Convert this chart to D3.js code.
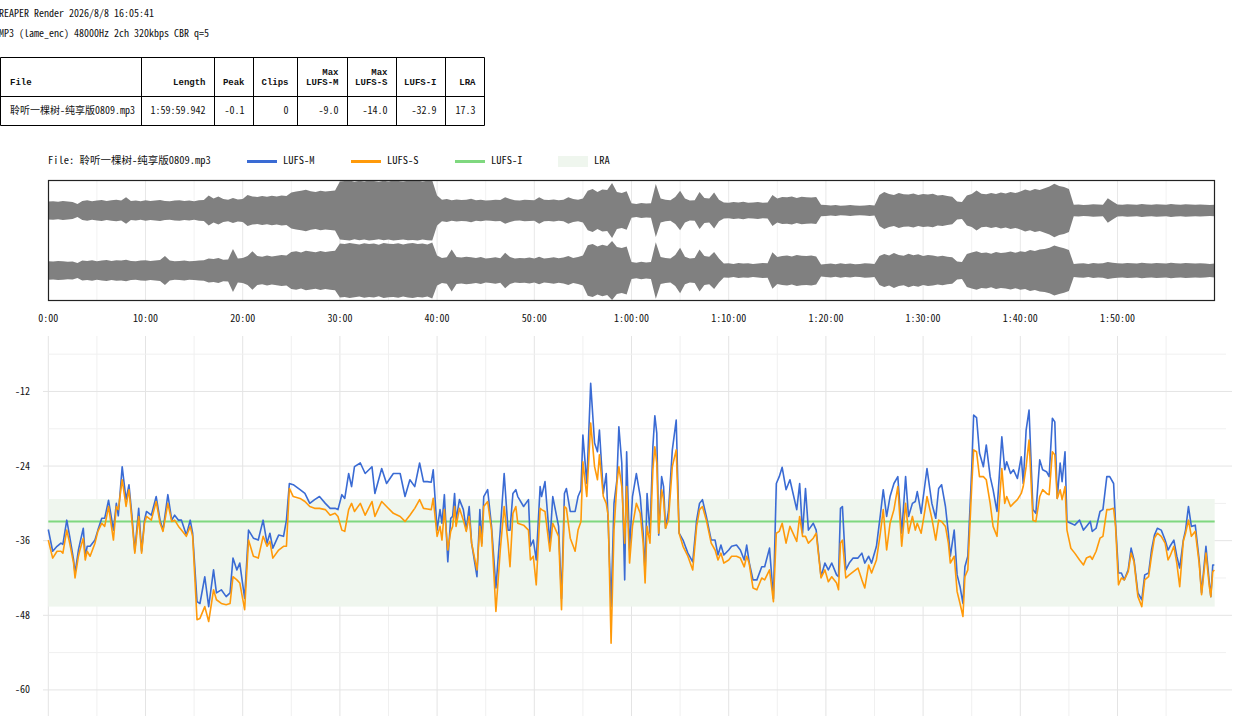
<!DOCTYPE html>
<html>
<head>
<meta charset="utf-8">
<script src="https://cdn.jsdelivr.net/npm/d3@7"></script>
<style>
  body { margin: 0; background: #fff; }
  svg text { font-family: "Noto Sans Mono CJK SC", "Liberation Mono", monospace; font-size: 10px; fill: #111; }
  svg text.th { font-family: "Liberation Mono", monospace; font-size: 9px; font-weight: bold; }
</style>
</head>
<body>
<svg id="chart" width="1253" height="716"></svg>
<script>
var headerLines = ["REAPER Render 2026/8/8 16:05:41", "MP3 (lame_enc) 48000Hz 2ch 320kbps CBR q=5"];
var tableHeaders = [["File"], ["Length"], ["Peak"], ["Clips"], ["Max", "LUFS-M"], ["Max", "LUFS-S"], ["LUFS-I"], ["LRA"]];
var tableRow = ["聆听一棵树-纯享版0809.mp3", "1:59:59.942", "-0.1", "0", "-9.0", "-14.0", "-32.9", "17.3"];
var fileName = "聆听一棵树-纯享版0809.mp3";
var durationMin = 119.999;
var lufsI = -32.9;
var lraRange = [-46.6, -29.3];
var timeTicks = [0, 10, 20, 30, 40, 50, 60, 70, 80, 90, 100, 110];
var loudTicks = [-12, -24, -36, -48, -60];
var legendItems = ["LUFS-M", "LUFS-S", "LUFS-I", "LRA"];

// loudness samples (minutes, LUFS)
var lufsTime = [
  0, 0.45, 0.9, 1.3, 1.5, 1.9, 2.2, 2.6, 2.75, 3.1, 3.25, 3.6, 3.8, 4.0, 4.3, 4.8, 5.1, 5.5, 5.8, 6.2,
  6.7, 7.0, 7.2, 7.6, 8.0, 8.3, 8.6, 8.9, 9.3, 9.6, 9.9, 10.1, 10.6, 11.1, 11.5, 11.8, 12.3, 12.7, 13.0, 13.4,
  13.7, 14.2, 14.6, 14.85, 15.3, 15.6, 16.1, 16.5, 17.0, 17.3, 17.8, 18.3, 18.7, 19.0, 19.4, 19.7, 20.2, 20.6, 21.1, 21.6,
  22.1, 22.5, 22.8, 23.1, 23.7, 24.2, 24.5, 24.8, 25.2, 25.9, 26.4, 26.9, 27.4, 27.9, 28.5, 29.0, 29.5, 29.8, 30.2, 30.5,
  30.9, 31.2, 31.5, 32.1, 32.6, 33.3, 33.6, 34.3, 34.8, 35.5, 36.2, 36.7, 37.2, 37.7, 38.2, 38.6, 39.0, 39.4, 39.6, 40.0,
  40.3, 40.5, 40.75, 41.1, 41.4, 41.6, 41.8, 41.95, 42.3, 42.7, 43.0, 43.3, 43.55, 44.1, 44.4, 44.6, 44.8, 45.2, 45.6, 46.05,
  46.5, 46.9, 47.3, 47.5, 47.8, 48.1, 48.3, 48.9, 49.4, 49.6, 49.9, 50.2, 50.6, 50.75, 51.1, 51.6, 51.9, 52.5, 52.8, 53.1,
  53.3, 53.7, 54.2, 54.5, 54.8, 55.0, 55.4, 55.8, 56.2, 56.5, 56.7, 57.1, 57.4, 57.6, 57.9, 58.2, 58.5, 58.7, 59.0, 59.3,
  59.5, 59.8, 60.1, 60.5, 60.9, 61.2, 61.4, 61.6, 61.9, 62.2, 62.4, 62.6, 62.8, 63.1, 63.3, 63.5, 63.8, 64.2, 64.6, 64.9,
  65.3, 65.8, 66.3, 66.7, 67.0, 67.3, 67.7, 68.2, 68.6, 68.9, 69.2, 69.5, 70.0, 70.3, 70.8, 71.2, 71.6, 71.85, 72.1, 72.5,
  72.9, 73.4, 73.7, 74.2, 74.6, 74.9, 75.2, 75.5, 75.9, 76.3, 77.0, 77.3, 77.6, 77.9, 78.2, 78.7, 79.0, 79.5, 79.9, 80.25,
  80.6, 81.1, 81.3, 81.5, 81.7, 82.05, 82.4, 82.8, 83.3, 83.7, 84.0, 84.4, 84.7, 85.2, 85.6, 85.9, 86.25, 86.6, 87.0, 87.4,
  87.8, 88.2, 88.5, 88.9, 89.2, 89.4, 89.8, 90.2, 90.4, 90.9, 91.3, 91.6, 91.9, 92.3, 92.6, 92.8, 93.2, 93.5, 93.8, 94.1,
  94.3, 94.6, 95.0, 95.2, 95.5, 95.8, 96.2, 96.5, 96.9, 97.2, 97.6, 98.1, 98.4, 98.6, 99.0, 99.3, 99.7, 100.1, 100.3, 100.6,
  100.9, 101.3, 101.6, 102.0, 102.3, 102.7, 102.97, 103.3, 103.55, 103.8, 104.1, 104.3, 104.6, 104.8, 105.2, 105.6, 106.1, 106.5, 106.8, 107.2,
  107.4, 107.8, 108.2, 108.5, 108.9, 109.2, 109.6, 109.8, 110.1, 110.4, 110.7, 111.1, 111.4, 111.7, 112.1, 112.5, 112.8, 113.2, 113.5, 113.8,
  114.1, 114.5, 114.9, 115.2, 115.4, 115.8, 116.1, 116.4, 116.77, 117.0, 117.3, 117.6, 118.0, 118.4, 118.65, 119.1, 119.45, 119.6, 119.8, 119.96
];
var lufsM = [
  -34.2, -37.7, -36.9, -36.4, -36.6, -32.7, -35.3, -39.1, -41.2, -37.5, -36.4, -34.0, -38.5, -36.9, -36.9, -35.9, -34.3, -32.4, -32.4, -29.5,
  -34.3, -30.0, -32.0, -24.1, -29.4, -27.0, -31.9, -37.7, -30.8, -37.7, -32.7, -31.3, -31.9, -28.9, -32.7, -34.3, -28.6, -32.7, -31.9, -32.7,
  -32.7, -35.1, -32.7, -34.8, -45.8, -46.1, -41.8, -46.6, -40.7, -44.4, -43.9, -45.0, -44.4, -38.8, -40.7, -39.6, -45.3, -34.3, -35.6, -35.9,
  -32.7, -36.4, -34.8, -37.2, -35.1, -35.3, -32.7, -26.8, -27.0, -27.8, -28.4, -30.0, -29.4, -28.9, -30.0, -30.8, -30.8, -31.0, -28.6, -29.2,
  -25.2, -27.3, -24.1, -23.5, -25.2, -24.1, -28.4, -24.4, -26.8, -25.2, -25.2, -28.9, -26.2, -27.3, -23.5, -26.5, -26.5, -26.6, -24.6, -34.3,
  -31.0, -33.2, -28.6, -39.4, -32.4, -32.1, -28.4, -32.7, -29.4, -31.0, -34.3, -30.5, -36.4, -41.8, -31.0, -36.4, -28.9, -27.8, -33.7, -43.6,
  -34.3, -25.2, -34.3, -34.3, -28.4, -27.8, -28.9, -30.5, -29.4, -36.9, -35.9, -39.1, -27.3, -28.9, -26.5, -36.4, -28.9, -33.7, -45.3, -28.4,
  -27.6, -31.3, -31.3, -28.9, -27.8, -19.0, -26.8, -10.7, -20.3, -21.7, -18.2, -28.4, -25.2, -33.0, -46.6, -30.0, -26.2, -17.7, -23.5, -42.3,
  -21.7, -37.5, -28.9, -25.2, -28.9, -34.8, -41.2, -28.4, -34.8, -20.9, -15.9, -18.7, -35.1, -25.7, -27.3, -34.0, -31.3, -21.4, -16.6, -34.8,
  -35.9, -38.0, -39.4, -32.7, -30.0, -29.4, -32.1, -35.9, -35.9, -38.3, -36.7, -38.3, -37.5, -36.9, -36.7, -37.5, -39.1, -36.7, -39.4, -42.3,
  -42.3, -40.2, -40.2, -37.2, -45.3, -26.8, -25.7, -24.2, -27.8, -26.2, -31.0, -26.8, -34.8, -27.6, -34.3, -33.2, -34.3, -41.8, -39.6, -40.7,
  -39.6, -41.5, -41.8, -30.8, -30.5, -40.7, -39.6, -38.8, -38.8, -38.0, -39.6, -38.5, -39.6, -36.9, -31.9, -27.8, -32.1, -28.9, -26.8, -25.7,
  -34.8, -25.7, -32.1, -30.0, -29.7, -28.1, -31.6, -26.8, -24.4, -30.0, -32.4, -27.6, -27.0, -30.5, -34.8, -38.5, -34.3, -41.5, -43.4, -46.1,
  -40.2, -38.5, -24.6, -15.8, -16.2, -21.9, -24.1, -20.6, -25.7, -27.8, -31.3, -19.3, -24.6, -23.3, -25.2, -24.6, -26.0, -22.5, -26.8, -18.2,
  -15.0, -31.0, -31.6, -23.0, -24.6, -24.9, -25.7, -16.3, -16.9, -29.2, -23.5, -26.5, -21.7, -32.9, -33.2, -33.5, -32.7, -34.3, -33.7, -32.9,
  -34.5, -34.0, -31.3, -31.0, -25.7, -25.7, -26.8, -33.2, -41.2, -41.2, -42.3, -40.7, -37.2, -39.1, -44.4, -45.5, -41.5, -41.2, -37.5, -35.1,
  -34.0, -34.3, -35.9, -37.5, -36.9, -35.9, -38.5, -40.4, -35.9, -34.3, -30.5, -33.7, -33.5, -39.1, -44.4, -36.9, -42.8, -45.0, -39.9, -39.9
];
var lufsS = [
  -35.9, -38.8, -37.7, -37.7, -38.0, -34.3, -36.4, -39.6, -42.0, -38.5, -37.5, -35.6, -39.1, -37.7, -38.5, -36.4, -34.5, -33.2, -33.7, -30.5,
  -35.9, -30.5, -31.0, -26.2, -30.5, -27.8, -32.7, -38.0, -32.1, -38.0, -33.2, -32.1, -32.7, -29.7, -33.2, -34.5, -30.0, -32.9, -32.7, -33.7,
  -34.3, -35.3, -33.7, -35.3, -48.7, -48.5, -46.6, -49.0, -43.9, -45.5, -46.1, -46.3, -46.1, -41.8, -42.3, -42.8, -47.1, -35.9, -38.5, -38.8,
  -35.3, -36.9, -36.1, -38.8, -37.5, -36.9, -36.9, -27.6, -28.9, -29.2, -29.7, -30.5, -30.8, -30.8, -31.0, -31.9, -31.6, -32.1, -34.3, -34.5,
  -31.0, -30.0, -31.3, -30.0, -31.9, -29.7, -32.1, -29.7, -30.5, -31.6, -32.1, -32.9, -31.9, -30.8, -29.4, -30.8, -30.9, -31.0, -29.2, -35.3,
  -33.7, -35.9, -31.0, -37.5, -34.5, -33.7, -30.5, -33.7, -30.8, -32.7, -34.5, -32.1, -36.4, -40.7, -33.7, -36.9, -30.5, -29.7, -34.3, -47.4,
  -37.5, -30.5, -36.4, -40.2, -31.6, -30.5, -33.2, -33.5, -34.3, -39.1, -38.5, -43.1, -30.8, -31.0, -31.3, -37.7, -33.2, -35.3, -47.1, -30.5,
  -30.8, -35.6, -37.7, -34.3, -32.9, -23.3, -28.9, -17.1, -24.1, -26.2, -22.2, -28.9, -30.0, -32.0, -52.5, -34.3, -26.8, -24.1, -27.3, -36.4,
  -27.3, -39.6, -33.7, -30.0, -31.6, -36.4, -42.8, -33.7, -36.4, -24.6, -20.9, -23.5, -34.8, -27.8, -29.4, -34.0, -32.7, -24.1, -21.4, -34.8,
  -36.9, -38.5, -40.7, -33.7, -31.0, -30.5, -32.7, -36.4, -37.5, -39.1, -38.0, -39.6, -39.1, -38.5, -38.5, -38.8, -40.2, -38.5, -39.6, -43.6,
  -43.9, -42.0, -42.3, -40.7, -45.8, -34.8, -34.5, -33.2, -36.4, -33.7, -36.1, -32.1, -35.3, -35.3, -36.4, -35.6, -34.8, -42.0, -40.7, -42.6,
  -41.8, -42.8, -43.9, -36.4, -35.9, -42.0, -41.5, -41.0, -40.4, -42.3, -43.6, -39.9, -41.2, -39.1, -34.8, -31.0, -37.5, -33.2, -31.0, -27.3,
  -36.9, -30.0, -34.8, -32.1, -34.3, -33.2, -34.8, -31.0, -28.9, -32.4, -35.9, -32.7, -32.9, -33.7, -36.4, -39.6, -38.5, -44.2, -46.1, -48.2,
  -41.8, -40.7, -27.3, -21.4, -21.7, -25.7, -25.7, -26.2, -30.0, -33.7, -35.3, -24.4, -30.0, -28.9, -30.5, -30.0, -29.4, -28.4, -27.3, -24.1,
  -19.8, -32.7, -32.9, -28.9, -27.8, -28.4, -28.6, -21.7, -22.2, -29.2, -27.8, -29.4, -27.3, -34.3, -37.2, -38.0, -39.1, -39.9, -38.8, -38.5,
  -39.0, -37.7, -35.6, -35.3, -31.0, -31.0, -30.8, -33.7, -43.1, -42.0, -42.3, -41.0, -38.0, -39.4, -45.0, -46.6, -42.3, -41.8, -38.5, -35.6,
  -34.8, -35.3, -36.4, -39.1, -38.5, -36.9, -39.6, -43.4, -36.1, -34.8, -32.7, -35.3, -34.5, -39.6, -44.7, -38.0, -43.4, -45.0, -41.0, -40.7
];

// waveform peak envelope per channel, one value every half minute (0 .. 120 min), fraction of full scale
var waveStep = 0.5;
var waveL = [
  0.30, 0.31, 0.29, 0.32, 0.30, 0.28, 0.22, 0.32, 0.34, 0.31, 0.33, 0.35, 0.32, 0.34, 0.36, 0.33, 0.44,
  0.32, 0.33, 0.31, 0.34, 0.32, 0.33, 0.35, 0.32, 0.31, 0.33, 0.34, 0.32, 0.33, 0.31, 0.34, 0.35,
  0.50, 0.40, 0.47, 0.38, 0.36, 0.42, 0.37, 0.38, 0.52,
  0.47, 0.45, 0.48, 0.46, 0.49, 0.47, 0.50, 0.48,
  0.60, 0.63, 0.66, 0.69, 0.64, 0.62, 0.66, 0.63, 0.65, 0.67,
  0.97, 0.98, 1.00, 0.96, 0.99, 0.97, 1.00, 0.98, 0.96, 0.99, 0.97, 1.00, 0.98, 0.97, 0.99, 0.98, 1.00, 0.97, 0.99, 1.00,
  0.50, 0.36, 0.38, 0.34, 0.37, 0.35, 0.36, 0.39, 0.34, 0.36,
  0.33, 0.34, 0.36, 0.35, 0.44, 0.38, 0.34, 0.33, 0.36, 0.35, 0.34,
  0.44, 0.36, 0.35, 0.37, 0.34, 0.36, 0.44, 0.38, 0.36, 0.40,
  0.66, 0.72, 0.62, 0.70, 0.68, 0.92, 0.62, 0.58, 0.64,
  0.24, 0.22, 0.25, 0.23, 0.24,
  0.88, 0.40, 0.36, 0.34, 0.45, 0.66, 0.40, 0.33, 0.34, 0.62, 0.42, 0.40, 0.60, 0.36,
  0.27, 0.26, 0.28, 0.27, 0.29, 0.26, 0.27, 0.28, 0.26, 0.27,
  0.52, 0.40, 0.45, 0.44, 0.47, 0.42, 0.46, 0.44, 0.43, 0.45,
  0.19, 0.18, 0.17, 0.18, 0.16, 0.17, 0.18, 0.17, 0.16, 0.17, 0.18, 0.17,
  0.52, 0.62, 0.55, 0.52, 0.58, 0.54, 0.53, 0.57, 0.52, 0.55, 0.53, 0.56, 0.50, 0.52, 0.48, 0.46,
  0.30, 0.28, 0.50, 0.55, 0.67, 0.56, 0.54, 0.58, 0.55, 0.60, 0.57, 0.62, 0.58, 0.63, 0.70, 0.66, 0.72, 0.68, 0.74, 0.80, 0.89, 0.82, 0.78, 0.72,
  0.19, 0.20, 0.18, 0.19, 0.21, 0.20, 0.19, 0.41, 0.30, 0.20, 0.19, 0.21, 0.20, 0.19, 0.22,
  0.20, 0.19, 0.21, 0.20, 0.19, 0.22, 0.20, 0.19, 0.21, 0.20, 0.19, 0.20, 0.19, 0.18, 0.19
];
var waveR = [
  0.31, 0.30, 0.32, 0.31, 0.29, 0.30, 0.25, 0.33, 0.32, 0.34, 0.31, 0.33, 0.35, 0.32, 0.34, 0.33, 0.36,
  0.32, 0.31, 0.33, 0.34, 0.32, 0.33, 0.35, 0.48, 0.33, 0.31, 0.32, 0.33, 0.31, 0.32, 0.33, 0.34,
  0.40, 0.38, 0.42, 0.36, 0.37, 0.72, 0.40, 0.42, 0.48,
  0.64, 0.48, 0.46, 0.50, 0.47, 0.49, 0.52, 0.50,
  0.62, 0.64, 0.60, 0.66, 0.63, 0.61, 0.65, 0.62, 0.64, 0.66,
  0.90, 0.88, 0.92, 0.89, 0.87, 0.91, 0.88, 0.90, 0.86, 0.92, 0.89, 0.88, 0.91, 0.87, 0.90, 0.92, 0.88, 0.90, 0.87, 0.93,
  0.50, 0.42, 0.44, 0.70, 0.45, 0.43, 0.46, 0.44, 0.42, 0.45,
  0.40, 0.42, 0.44, 0.41, 0.59, 0.45, 0.40, 0.42, 0.41, 0.43, 0.40,
  0.46, 0.40, 0.42, 0.44, 0.41, 0.43, 0.48, 0.42, 0.45, 0.50,
  0.84, 0.88, 0.80, 0.86, 0.82, 0.98, 0.78, 0.75, 0.80,
  0.28, 0.26, 0.29, 0.27, 0.28,
  0.94, 0.45, 0.42, 0.40, 0.52, 0.76, 0.46, 0.40, 0.42, 0.70, 0.48, 0.46, 0.62, 0.40,
  0.23, 0.24, 0.22, 0.25, 0.23, 0.24, 0.22, 0.23, 0.25, 0.24,
  0.61, 0.45, 0.48, 0.50, 0.47, 0.52, 0.49, 0.48, 0.50, 0.47,
  0.20, 0.22, 0.23, 0.21, 0.24, 0.22, 0.23, 0.21, 0.22, 0.24, 0.23, 0.22,
  0.48, 0.55, 0.50, 0.58, 0.52, 0.49, 0.56, 0.51, 0.54, 0.48, 0.52, 0.50, 0.47, 0.49, 0.46, 0.44,
  0.30, 0.28, 0.55, 0.60, 0.64, 0.58, 0.60, 0.56, 0.62, 0.58, 0.60, 0.63, 0.59, 0.64, 0.62, 0.68, 0.65, 0.70, 0.72, 0.76, 0.83, 0.78, 0.74, 0.68,
  0.22, 0.23, 0.24, 0.22, 0.25, 0.23, 0.24, 0.28, 0.26, 0.24, 0.23, 0.25, 0.24, 0.23, 0.26,
  0.24, 0.23, 0.25, 0.24, 0.23, 0.26, 0.24, 0.23, 0.25, 0.24, 0.23, 0.24, 0.23, 0.22, 0.23
];

var colM = "#3a6bd4", colS = "#ff9a0a", colI = "#7fd87f", colLra = "#eff6ee";

var svg = d3.select("#chart");

// ---- header text ----
svg.selectAll("text.hdr").data(headerLines).enter().append("text")
  .attr("class", "hdr")
  .attr("x", -1)
  .attr("y", function (d, i) { return 16.5 + i * 20; })
  .text(function (d) { return d; });

// ---- stats table ----
var colEdges = [0.5, 141.5, 214.5, 253.5, 297.5, 347.5, 396.5, 445.5, 484.5];
var rowEdges = [57.5, 96.5, 125.5];
var table = svg.append("g").attr("class", "table");

table.selectAll("line.col").data(colEdges).enter().append("line")
  .attr("x1", function (d) { return d; }).attr("x2", function (d) { return d; })
  .attr("y1", rowEdges[0]).attr("y2", rowEdges[2])
  .attr("stroke", "#000");
table.selectAll("line.row").data(rowEdges).enter().append("line")
  .attr("x1", colEdges[0]).attr("x2", colEdges[colEdges.length - 1])
  .attr("y1", function (d) { return d; }).attr("y2", function (d) { return d; })
  .attr("stroke", "#000");

function cellX(i) { return i === 0 ? colEdges[0] + 9.5 : colEdges[i + 1] - 9; }
function cellAnchor(i) { return i === 0 ? "start" : "end"; }

tableHeaders.forEach(function (lines, i) {
  lines.forEach(function (ln, j) {
    table.append("text")
      .attr("class", "th")
      .attr("x", cellX(i))
      .attr("y", 85 - (lines.length - 1 - j) * 10.5)
      .attr("text-anchor", cellAnchor(i))
      .text(ln);
  });
});
tableRow.forEach(function (v, i) {
  table.append("text")
    .attr("x", cellX(i))
    .attr("y", 113.5)
    .attr("text-anchor", cellAnchor(i))
    .text(v);
});

// ---- legend ----
var legend = svg.append("g").attr("class", "legend");
legend.append("text").attr("x", 48).attr("y", 164).style("font-size", "10.5px").text("File: " + fileName);
var legX = [247, 351, 455, 558];
var legCol = [colM, colS, colI];
legendItems.forEach(function (name, i) {
  if (i < 3) {
    legend.append("line")
      .attr("x1", legX[i]).attr("x2", legX[i] + 30)
      .attr("y1", 161.5).attr("y2", 161.5)
      .attr("stroke", legCol[i]).attr("stroke-width", 3);
  } else {
    legend.append("rect")
      .attr("x", legX[i]).attr("y", 156).attr("width", 30).attr("height", 11)
      .attr("fill", colLra);
  }
  legend.append("text").attr("x", legX[i] + 36).attr("y", 164).style("font-size", "10.5px").text(name);
});

// ---- scales ----
var x = d3.scaleLinear().domain([0, 120]).range([48.3, 1214.7]);
var fiveMin = d3.range(0, 120, 5);
function fmtTime(m) {
  var h = Math.floor(m / 60), mm = m % 60;
  return h > 0 ? h + ":" + d3.format("02d")(mm) + ":00" : mm + ":00";
}

// ---- waveform ----
var wave = svg.append("g").attr("class", "wave");
var boxTop = 180.5, boxH = 120;
wave.selectAll("line.grid").data(fiveMin.slice(1)).enter().append("line")
  .attr("x1", function (d) { return x(d); }).attr("x2", function (d) { return x(d); })
  .attr("y1", boxTop).attr("y2", boxTop + boxH)
  .attr("stroke", function (d) { return d % 10 === 0 ? "#e8e8e8" : "#f2f2f2"; });

var waveT = d3.range(waveL.length).map(function (i) { return Math.min(i * waveStep, durationMin); });
[{ amp: waveL, c: 210.5 }, { amp: waveR, c: 270.5 }].forEach(function (ch) {
  var area = d3.area()
    .x(function (d, i) { return x(waveT[i]); })
    .y0(function (d) { return ch.c + d * 30; })
    .y1(function (d) { return ch.c - d * 30; });
  wave.append("path").attr("d", area(ch.amp)).attr("fill", "#808080");
});
wave.append("rect")
  .attr("x", 48.5).attr("y", boxTop).attr("width", 1166).attr("height", boxH)
  .attr("fill", "none").attr("stroke", "#222").attr("stroke-width", 1.2);

svg.selectAll("text.tt").data(timeTicks).enter().append("text")
  .attr("class", "tt")
  .attr("x", function (d) { return x(d); })
  .attr("y", 321.5)
  .attr("text-anchor", "middle")
  .text(fmtTime);

// ---- loudness chart ----
var y = d3.scaleLinear().domain([-65, -3]).range([721, 335.5]);
var plot = svg.append("g").attr("class", "loud");
var gridDb = d3.range(-6, -66, -6);

plot.selectAll("line.vg").data(fiveMin).enter().append("line")
  .attr("x1", function (d) { return x(d); }).attr("x2", function (d) { return x(d); })
  .attr("y1", 336).attr("y2", 716)
  .attr("stroke", function (d) { return d % 10 === 0 ? "#e4e4e4" : "#f0f0f0"; });

plot.selectAll("line.hg").data(gridDb).enter().append("line")
  .attr("x1", function (d) { return d % 12 === 0 ? 43 : 48.3; })
  .attr("x2", function (d) { return d % 12 === 0 ? 1232 : 1226; })
  .attr("y1", function (d) { return y(d); }).attr("y2", function (d) { return y(d); })
  .attr("stroke", function (d) { return d % 12 === 0 ? "#e4e4e4" : "#f0f0f0"; });

plot.selectAll("text.yt").data(loudTicks).enter().append("text")
  .attr("class", "yt")
  .attr("x", 30)
  .attr("y", function (d) { return y(d); })
  .attr("dy", "0.35em")
  .attr("text-anchor", "end")
  .text(function (d) { return d; });

plot.append("rect")
  .attr("x", x(0)).attr("width", x(durationMin) - x(0))
  .attr("y", y(lraRange[1])).attr("height", y(lraRange[0]) - y(lraRange[1]))
  .attr("fill", colLra);

plot.append("line")
  .attr("x1", x(0)).attr("x2", x(durationMin))
  .attr("y1", y(lufsI)).attr("y2", y(lufsI))
  .attr("stroke", colI).attr("stroke-width", 2);

var line = d3.line()
  .x(function (d, i) { return x(lufsTime[i]); })
  .y(function (d) { return y(d); });

plot.append("path").attr("d", line(lufsM))
  .attr("fill", "none").attr("stroke", colM).attr("stroke-width", 1.6).attr("stroke-linejoin", "round");
plot.append("path").attr("d", line(lufsS))
  .attr("fill", "none").attr("stroke", colS).attr("stroke-width", 1.6).attr("stroke-linejoin", "round");
</script>
</body>
</html>
